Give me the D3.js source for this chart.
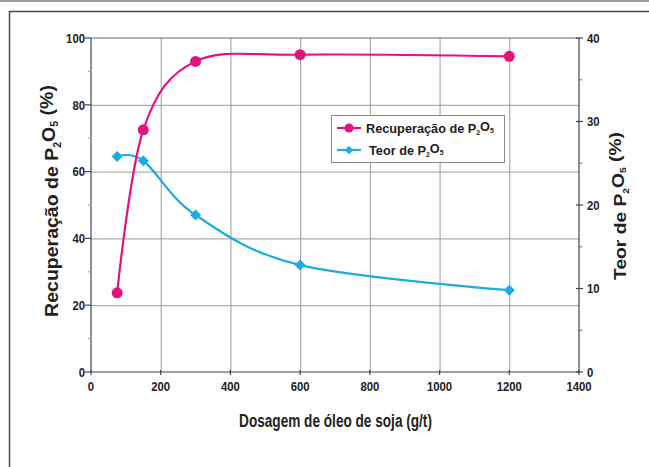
<!DOCTYPE html>
<html>
<head>
<meta charset="utf-8">
<script src="https://cdn.jsdelivr.net/npm/d3@7"></script>
<style>
html,body{margin:0;padding:0;background:#fff;}
svg{display:block;}
text{font-family:"Liberation Sans",Arial,Helvetica,sans-serif;font-weight:bold;}
</style>
</head>
<body>
<svg id="chart" width="649" height="467"></svg>
<script>
// ---- data ----
const dosagem = [75, 150, 300, 600, 1200];
const recuperacao = [23.7, 72.5, 93.0, 95.0, 94.5];
const teor = [25.8, 25.3, 18.8, 12.8, 9.8];
const xTicks = [0, 200, 400, 600, 800, 1000, 1200, 1400];
const yLeftTicks = [0, 20, 40, 60, 80, 100];
const yLeftMinor = [10, 30, 50, 70, 90];
const yRightTicks = [0, 10, 20, 30, 40];
const yRightMinor = [5, 15, 25, 35];
const colors = ["#e3137e", "#1eabe0"];

const svg = d3.select("#chart");
const L = 91, R = 579, T = 38, B = 372;
const x = d3.scaleLinear().domain([0, 1400]).range([L, R]);
const yL = d3.scaleLinear().domain([0, 100]).range([B, T]);
const yR = d3.scaleLinear().domain([0, 40]).range([B, T]);

// outer frame
svg.append("line").attr("x1", 0).attr("x2", 649).attr("y1", 1).attr("y2", 1)
  .attr("stroke", "#9a9a9a").attr("stroke-width", 2);
svg.append("path").attr("d", "M649,11.5 H9.5 V467")
  .attr("fill", "none").attr("stroke", "#4a4a4a").attr("stroke-width", 1.5);

// gridlines
const grid = svg.append("g").attr("stroke", "#9a9a9a").attr("stroke-width", 1);
xTicks.filter(d => d > 0 && d < 1400).forEach(d => {
  grid.append("line").attr("x1", x(d) + 0.5).attr("x2", x(d) + 0.5).attr("y1", T).attr("y2", B);
});
yLeftTicks.filter(d => d > 0 && d < 100).forEach(d => {
  grid.append("line").attr("y1", yL(d) + 0.5).attr("y2", yL(d) + 0.5).attr("x1", L).attr("x2", R);
});

// axes lines
const ax = svg.append("g").attr("stroke", "#444").attr("stroke-width", 1.2).attr("fill", "none");
ax.append("line").attr("x1", L).attr("x2", R).attr("y1", T).attr("y2", T).attr("stroke", "#666");
ax.append("line").attr("x1", L).attr("x2", L).attr("y1", T).attr("y2", B);
ax.append("line").attr("x1", L).attr("x2", R).attr("y1", B).attr("y2", B);
ax.append("line").attr("x1", R).attr("x2", R).attr("y1", T).attr("y2", B);

yLeftTicks.forEach(d => ax.append("line").attr("x1", L - 6).attr("x2", L).attr("y1", yL(d)).attr("y2", yL(d)));
yLeftMinor.forEach(d => ax.append("line").attr("x1", L - 3).attr("x2", L).attr("y1", yL(d)).attr("y2", yL(d)).attr("stroke", "#aaa"));
yRightTicks.forEach(d => ax.append("line").attr("x1", R - 3).attr("x2", R + 4).attr("y1", yR(d)).attr("y2", yR(d)));
yRightMinor.forEach(d => ax.append("line").attr("x1", R).attr("x2", R + 3).attr("y1", yR(d)).attr("y2", yR(d)).attr("stroke", "#777"));
xTicks.forEach(d => ax.append("line").attr("x1", x(d)).attr("x2", x(d)).attr("y1", B - 2).attr("y2", B + 3));

// tick labels (condensed bold)
const lab = svg.append("g").attr("font-size", 13.5).attr("fill", "#222");
const sx = 0.84;
yLeftTicks.forEach(d => lab.append("text").attr("transform", `translate(${L - 6},${yL(d)}) scale(${sx},1)`)
  .attr("dy", "0.36em").attr("text-anchor", "end").text(d));
yRightTicks.forEach(d => lab.append("text").attr("transform", `translate(${R + 8},${yR(d)}) scale(${sx},1)`)
  .attr("dy", "0.36em").attr("text-anchor", "start").text(d));
xTicks.forEach(d => lab.append("text").attr("transform", `translate(${x(d)},${B + 19}) scale(${sx},1)`)
  .attr("text-anchor", "middle").text(d));

function p2o5(sel, pre, post, sub) {
  sel.append("tspan").text(pre + "P");
  sel.append("tspan").attr("font-size", sub).attr("dy", "0.3em").text("2");
  sel.append("tspan").attr("dy", "-0.3em").text("O");
  sel.append("tspan").attr("font-size", sub).attr("dy", "0.3em").text("5");
  sel.append("tspan").attr("dy", "-0.3em").text(post);
}
// place a text so that it spans exactly `len` px (horizontal before rotation)
function fit(t, len, tx, ty, rot, anchor) {
  const w = t.node().getBBox().width;
  const s = len / w;
  t.attr("text-anchor", anchor || "middle")
   .attr("transform", `translate(${tx},${ty}) rotate(${rot}) scale(${s},1)`);
  return s;
}

// axis titles
const tx = svg.append("text").attr("font-size", 17.5).attr("fill", "#222").text("Dosagem de óleo de soja (g/t)");
fit(tx, 193, 335.5, 427, 0);
const tl = svg.append("text").attr("font-size", 18.5).attr("fill", "#222");
p2o5(tl, "Recuperação de ", " (%)", 10);
fit(tl, 232, 58, 201, -90);
const tr = svg.append("text").attr("font-size", 17).attr("fill", "#222");
p2o5(tr, "Teor de ", " (%)", 9);
fit(tr, 148, 626, 206, -90);

// lines
const pts1 = dosagem.map((d, i) => [x(d), yL(recuperacao[i])]);
const pts2 = dosagem.map((d, i) => [x(d), yR(teor[i])]);
const line = d3.line().curve(d3.curveCardinal.tension(0));
svg.append("path").attr("d", line(pts2)).attr("fill", "none").attr("stroke", colors[1]).attr("stroke-width", 2.2);
svg.append("path").attr("d", line(pts1)).attr("fill", "none").attr("stroke", colors[0]).attr("stroke-width", 2.2);

const dia = r => `M0,${-r}L${r},0L0,${r}L${-r},0Z`;
svg.append("g").selectAll("path").data(pts2).join("path")
  .attr("transform", d => `translate(${d[0]},${d[1]})`).attr("d", dia(5.5)).attr("fill", colors[1]);
svg.append("g").selectAll("circle").data(pts1).join("circle")
  .attr("cx", d => d[0]).attr("cy", d => d[1]).attr("r", 5.5).attr("fill", colors[0]);

// legend
const lg = svg.append("g");
lg.append("rect").attr("x", 331.5).attr("y", 115.5).attr("width", 173).attr("height", 47)
  .attr("fill", "#fff").attr("stroke", "#8a8a8a").attr("stroke-width", 1);
let ls = null;
[0, 1].forEach(i => {
  const yy = 128 + i * 22;
  lg.append("line").attr("x1", 337).attr("x2", 361).attr("y1", yy).attr("y2", yy)
    .attr("stroke", colors[i]).attr("stroke-width", 2.2);
  if (i === 0) lg.append("circle").attr("cx", 349).attr("cy", yy).attr("r", 4.5).attr("fill", colors[0]);
  else lg.append("path").attr("transform", `translate(349,${yy})`).attr("d", dia(4.2)).attr("fill", colors[1]);
  const t = lg.append("text").attr("font-size", 13).attr("fill", "#222").attr("dy", "0.35em");
  p2o5(t, i === 0 ? "Recuperação de " : "Teor de ", "", 7);
  if (i === 0) ls = fit(t, 128, 366, yy, 0, "start");
  else t.attr("text-anchor", "start").attr("transform", `translate(369,${yy}) scale(${ls},1)`);
});
</script>
</body>
</html>
